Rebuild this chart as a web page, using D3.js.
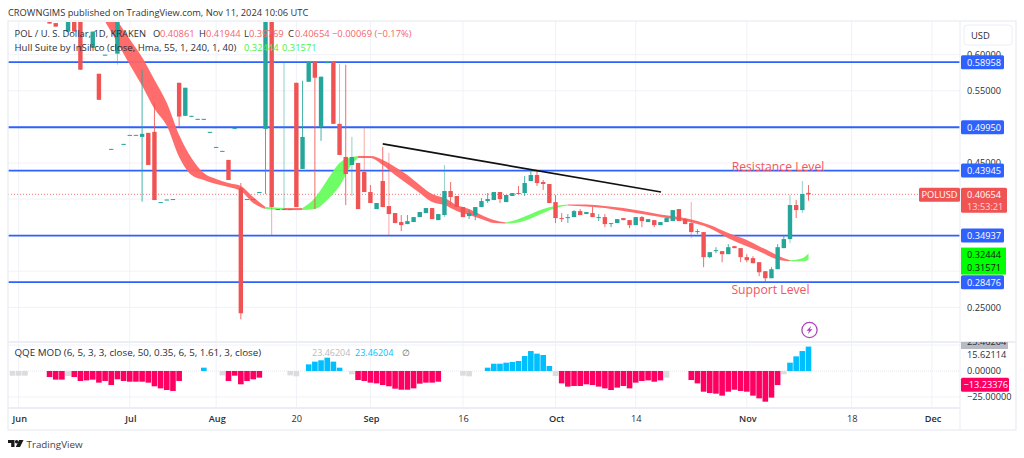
<!DOCTYPE html>
<html><head><meta charset="utf-8">
<script src="https://cdnjs.cloudflare.com/ajax/libs/d3/7.8.5/d3.min.js"></script>
<style>html,body{margin:0;padding:0;background:#fff;overflow:hidden}svg{display:block}text{font-family:"Open Sans","Noto Sans",sans-serif}</style>
</head><body><div id="chart"></div>
<script>
const candleDays=[5,6,8,9,10,12,13,14,15,16,...Array.from({length:112},(_,k)=>17+k)];
const opens=[.6458,.6438,.632,.6614,.6614,.6097,.5736,.5993,.4688,.6014,
.4757,.4882,.4889,.4861,.4917,.4931,.3951,.3986,.3993,.5611,
.5153,.5146,.5104,.5104,.4917,.4715,.466,.4542,.4979,.4153,
.3993,.3993,.409,.4972,.6614,.3854,.3854,.3854,.5611,.4417,
.5625,.5903,.5,.5889,.5903,.5042,.4583,.4472,.45,.4375,
.4097,.3861,.425,.3903,.3806,.3681,.3653,.3681,.375,.3806,
.3875,.3708,.3778,.4111,.4042,.3889,.3764,.3778,.3889,.3972,
.3986,.4097,.3958,.4042,.4083,.4083,.425,.4333,.4236,.4208,
.3958,.3736,.3736,.375,.3833,.3792,.3806,.3743,.375,.366,
.3667,.3736,.3708,.3639,.375,.3681,.3708,.3639,.3681,.3695,
.3861,.3722,.3667,.3549,.3542,.3195,.3278,.3278,.3236,.3347,
.332,.3195,.3181,.3125,.3,.2903,.3028,.332,.3445,.3917,.3847,.40861];
const closes=[.6431,.6389,.6614,.632,.5792,.632,.5375,.6,.4695,.6614,
.4764,.4889,.4882,.4903,.4472,.3986,.3958,.3993,.4,.5143,
.5542,.5153,.5111,.5111,.4931,.4722,.4667,.4264,.4986,.2417,
.4,.4,.4097,.6614,.3889,.3861,.3861,.3861,.3889,.4861,
.5903,.5681,.5695,.5896,.5042,.4611,.4347,.4583,.3861,.4097,
.3945,.3945,.3889,.3792,.3667,.3639,.3695,.375,.382,.3875,
.3722,.3792,.4111,.4028,.3889,.375,.3806,.3889,.3972,.4,
.4097,.4,.4056,.4083,.407,.4222,.4333,.4222,.4208,.3945,
.3736,.3722,.375,.3833,.3778,.382,.375,.375,.3653,.3667,
.3722,.3708,.3639,.375,.3695,.3722,.3639,.3681,.3736,.3847,
.3695,.3653,.3542,.3556,.3195,.3264,.3292,.3236,.3333,.332,
.3195,.3153,.3111,.2986,.2903,.3028,.3333,.3445,.3917,.3847,.407,.40654];
const highs=[.6458,.6438,.6614,.6614,.6714,.632,.5736,.6,.4695,.6614,
.4764,.4889,.4889,.5792,.4917,.5333,.3958,.3993,.4,.5611,
.5542,.5153,.5111,.5111,.4931,.4722,.4667,.4542,.4986,.4222,
.4,.4,.4097,.6614,.6714,.3861,.5903,.3861,.5611,.5639,
.5903,.5903,.5695,.5896,.5903,.5875,.5861,.4861,.45,.5,
.4195,.3945,.4722,.4639,.3806,.3778,.3778,.375,.382,.3875,
.3875,.3792,.4472,.4236,.4042,.3889,.3847,.3889,.4014,.4083,
.4097,.4097,.4056,.4083,.4181,.432,.4403,.4403,.4264,.4208,
.4056,.3806,.3792,.3847,.3861,.382,.3889,.3792,.3792,.3667,
.3722,.3736,.3708,.375,.3764,.3722,.3708,.3681,.375,.3847,
.3861,.3736,.3958,.3583,.3542,.3264,.3333,.3278,.3375,.3347,
.332,.3236,.3208,.3125,.3,.3056,.3375,.3486,.4056,.3986,.425,.41944];
const lows=[.6431,.6389,.632,.632,.5792,.6097,.5375,.5993,.4688,.5861,
.4757,.4882,.4882,.3963,.4472,.3986,.3951,.3986,.3993,.5,
.5153,.5146,.5104,.5104,.4917,.4715,.466,.4264,.4979,.2333,
.3993,.3993,.409,.407,.35,.3854,.3854,.3854,.3889,.4417,
.5625,.3861,.4806,.5889,.5042,.4611,.3917,.4042,.3861,.4097,
.3945,.3861,.3889,.35,.3667,.3556,.3653,.3681,.375,.3806,
.3722,.3708,.375,.3917,.3889,.375,.3722,.3708,.3889,.3945,
.3986,.3945,.3958,.4042,.407,.4042,.425,.4181,.4125,.3945,
.3667,.3681,.3667,.375,.3778,.3792,.375,.3695,.3611,.3611,
.3667,.3708,.3597,.3639,.3611,.3681,.3611,.3639,.3681,.3695,
.3695,.3653,.3458,.3514,.3056,.3181,.325,.3125,.3236,.332,
.3125,.3125,.3111,.2931,.2847,.2903,.3028,.332,.3389,.3736,.3806,.39769];
const fadedWickDays=[16,43,52,54,69,125,127,60,56,41,109];

const hullDays=[14,16,18,20,22,24,26,28,30,32,34,36,38,40,43,46,48,50,52,54,55,57,59,61,63,65,67,69,71,73,75,77,79,81,83,85,87,89,92,95,98,101,104,107,110,112,115,118,120,122,124,125,127,128];
const hullUpper=[.6764,.6472,.6215,.5965,.5653,.5333,.4889,.457,.4361,.4278,.4222,.4181,.4028,.3889,.3875,.3875,.4014,.4264,.45,.4583,.4597,.4597,.4542,.4445,.4333,.4195,.407,.4014,.3917,.3861,.3778,.3708,.3674,.3722,.3792,.3861,.3903,.3924,.3924,.3903,.3875,.3833,.3785,.375,.3695,.3639,.3528,.3431,.3347,.3264,.3181,.3153,.3181,.32444];
const hullLower=[.6458,.6167,.5861,.557,.525,.5014,.4583,.4333,.4264,.4208,.4167,.4111,.3945,.3861,.3847,.3847,.3861,.3986,.4181,.4486,.457,.457,.4472,.4333,.4208,.4083,.3958,.3917,.3833,.3778,.3722,.3667,.366,.3674,.3729,.3806,.3875,.391,.3896,.3875,.3833,.3792,.375,.3708,.3653,.3597,.3458,.3347,.3278,.3195,.3146,.3139,.3139,.31571];
const hullPhaseStart=[14,40,43,46,55,79,89,125];
const hullPhaseEnd=[40,43,46,55,79,89,125,128];
const hullPhaseRising=[false,true,false,true,false,true,false,true];

const qqeDays=[-1,0,1,5,6,7,8,9,10,11,12,13,14,15,16,17,18,19,20,21,22,23,24,25,26,30,33,34,35,36,37,38,39,44,45,47,48,49,50,51,52,54,55,56,57,58,59,60,61,62,63,64,65,66,67,68,72,73,76,77,78,79,80,81,82,83,84,85,86,87,88,89,90,91,92,93,94,95,96,97,98,99,100,101,102,103,104,105,109,110,111,112,113,114,115,116,117,118,119,120,121,122,123,124,125,126,127,128];
const qqeValues=[-4.5,-4.5,-4.5,-5.8,-8.3,-8.3,-4.8,-5.8,-9.6,-9,-8.3,-11.2,-9.6,-13.5,-8,-9.6,-10.3,-10.3,-10.3,-11.2,-14.7,-16.7,-18.3,-19.2,-9.6,3.2,-4.2,-9.6,-4.5,-12.8,-9.6,-8,-6.4,-4.2,-5.1,6.4,9,10.3,12.8,9,3.2,-3.2,-8.7,-9.6,-11.2,-11.9,-13.5,-14.7,-17,-18,-18,-16.7,-12.2,-11.2,-11.2,-10.3,-4.5,-5.1,3.2,7,7,8,8.7,9.6,14.4,19.2,16.7,15.4,4.8,-4.8,-11.9,-15,-14.4,-14.4,-12.8,-13.5,-15,-16.7,-18.3,-16,-14.4,-16.7,-11.2,-9.6,-9,-10.3,-9,-6.4,-8.7,-11.9,-19.9,-21.2,-21.8,-23.7,-19.9,-18,-19.2,-19.9,-23.7,-26.3,-29.5,-25.6,-13.5,-3.2,8,14.1,19.2,23.46204];
const qqeNeutralDays=[-1,0,1,8,33,44,45,54,72,73,87,105,124];

const levelValues=[.58958,.4995,.43945,.34937,.28476];
const priceTicks=[.6,.55,.45,.25];
const gridPrices=[.6,.55,.5,.45,.4,.35,.3,.25];
const qqeTicks=[15.62114,0,-25];
const dayTicks=[0,18,32,45,57,72,87,100,118,135,148];
const dayTickLabels=["Jun","Jul","Aug","20","Sep","16","Oct","14","Nov","18","Dec"];
const trendDays=[59,104.1];
const trendPrices=[.4764,.4097];
const lastPrice=.40654, hullA=.32444, hullB=.31571, qqeLast=23.46204, qqeSignal=-13.23376;

const W=1024,H=458;
const L=8,R=960,RR=1016,T=21,PB=341,QT=343,QB=407,AB=430;
const TEAL="#26a69a",RED="#f05353",BLUE="#2e62ff",HRED="#ff6464",HGREEN="#66fd5c",PINK="#ff0062",CYAN="#00bfff",GRAY="#dcdcdc",INK="#2a2e39";
const svg=d3.select("#chart").append("svg").attr("width",W).attr("height",H);
const x=d3.scaleLinear().domain([0,128]).range([18.7,808.5]);
const y=d3.scaleLinear().domain([.6,.25]).range([54.7,307.3]);
const q=d3.scaleLinear().domain([25,-25]).range([345,397]);
const defs=svg.append("defs");
defs.append("clipPath").attr("id","pp").append("rect").attr("x",L).attr("y",T+1).attr("width",R-L).attr("height",PB-T-1);
defs.append("clipPath").attr("id","qp").append("rect").attr("x",L).attr("y",QT).attr("width",R-L).attr("height",QB-QT);

const TXT=(s,xx,yy,fs,fill,anchor)=>svg.append("text").attr("x",xx).attr("y",yy).attr("font-size",fs).attr("fill",fill||INK).attr("text-anchor",anchor||"start").text(s);

const grid=svg.append("g").attr("stroke","#f0f2f8").attr("stroke-width",1);
dayTicks.forEach(d=>grid.append("line").attr("x1",x(d)).attr("x2",x(d)).attr("y1",T).attr("y2",QB));
gridPrices.forEach(p=>grid.append("line").attr("x1",L).attr("x2",R).attr("y1",y(p)).attr("y2",y(p)));
[q(25),q(-25)].forEach(v=>grid.append("line").attr("x1",L).attr("x2",R).attr("y1",v).attr("y2",v));
svg.append("line").attr("x1",L).attr("x2",R).attr("y1",q(0)).attr("y2",q(0)).attr("stroke","#e4e6ee").attr("stroke-dasharray","1,1");

const price=svg.append("g").attr("clip-path","url(#pp)");
price.append("line").attr("x1",L).attr("x2",R).attr("y1",y(lastPrice)).attr("y2",y(lastPrice)).attr("stroke",RED).attr("stroke-width",.8).attr("stroke-dasharray","1,2");
levelValues.forEach(v=>price.append("line").attr("x1",L).attr("x2",R).attr("y1",y(v)).attr("y2",y(v)).attr("stroke",BLUE).attr("stroke-width",1.8));

const area=d3.area().x(i=>x(hullDays[i])).y0(i=>y(hullLower[i])).y1(i=>y(hullUpper[i])).curve(d3.curveMonotoneX);
hullPhaseStart.forEach((s,k)=>{
  const idx=d3.range(hullDays.length).filter(i=>hullDays[i]>=s&&hullDays[i]<=hullPhaseEnd[k]);
  price.append("path").attr("d",area(idx)).attr("fill",hullPhaseRising[k]?HGREEN:HRED).attr("fill-opacity",.95);
});

const up=i=>closes[i]>=opens[i];
const cg=price.selectAll("g.c").data(candleDays.map((d,i)=>i)).join("g");
cg.append("line").attr("x1",i=>x(candleDays[i])).attr("x2",i=>x(candleDays[i])).attr("y1",i=>y(highs[i])).attr("y2",i=>y(lows[i]))
  .attr("stroke",i=>up(i)?TEAL:RED).attr("stroke-width",1).attr("stroke-opacity",i=>fadedWickDays.includes(candleDays[i])?.5:.85);
cg.append("rect").attr("x",i=>x(candleDays[i])-2.2).attr("width",4.4)
  .attr("y",i=>y(Math.max(opens[i],closes[i])))
  .attr("height",i=>Math.max(1,Math.abs(y(opens[i])-y(closes[i]))))
  .attr("fill",i=>up(i)?TEAL:RED);

price.append("line").attr("x1",x(trendDays[0])).attr("x2",x(trendDays[1])).attr("y1",y(trendPrices[0])).attr("y2",y(trendPrices[1])).attr("stroke","#111").attr("stroke-width",1.6);

svg.append("g").attr("clip-path","url(#qp)").selectAll("rect").data(qqeDays.map((d,i)=>i)).join("rect")
  .attr("x",i=>x(qqeDays[i])-2.8).attr("width",5.6)
  .attr("y",i=>Math.min(q(0),q(qqeValues[i])))
  .attr("height",i=>Math.abs(q(qqeValues[i])-q(0)))
  .attr("fill",i=>qqeNeutralDays.includes(qqeDays[i])?GRAY:qqeValues[i]>0?CYAN:PINK);

// frame
const frame=svg.append("g").attr("stroke","#eceef4").attr("fill","none");
frame.append("rect").attr("x",L).attr("y",T).attr("width",RR-L).attr("height",AB-T).attr("stroke-width",1.4);
frame.append("line").attr("x1",R).attr("x2",R).attr("y1",T).attr("y2",AB).attr("stroke-width",1.2);
frame.append("line").attr("x1",L).attr("x2",RR).attr("y1",PB+1).attr("y2",PB+1).attr("stroke-width",1.8);
frame.append("line").attr("x1",L).attr("x2",R).attr("y1",QB+1).attr("y2",QB+1).attr("stroke-width",1.8);

// axes
const fmt=d3.format(".5f");
const ya=svg.append("g").attr("transform",`translate(${R},0)`).call(d3.axisRight(y).tickValues(priceTicks).tickSize(0).tickPadding(7).tickFormat(fmt));
const qa=svg.append("g").attr("transform",`translate(${R},0)`).call(d3.axisRight(q).tickValues(qqeTicks).tickSize(0).tickPadding(7).tickFormat(d=>fmt(d).replace("-","\u2212")));
const xa=svg.append("g").attr("transform",`translate(0,${QB+8})`).call(d3.axisBottom(x).tickValues(dayTicks).tickSize(0).tickPadding(0).tickFormat((d,i)=>dayTickLabels[i]));
[ya,qa,xa].forEach(a=>{a.select(".domain").remove();a.selectAll("text").attr("fill",INK).attr("font-size",9.2).attr("font-family",'"Open Sans"');});
xa.selectAll("text").filter((d,i)=>[0,1,2,4,6,8,10].includes(i)).attr("font-weight",600).attr("dx",0.6);

// price tags
levelValues.forEach(v=>{
  const yy=y(v);
  svg.append("rect").attr("x",R+1).attr("y",yy-7).attr("width",43).attr("height",14).attr("rx",1.5).attr("fill",BLUE);
  TXT(fmt(v),R+7,yy+3.3,9.2,"#fff");
});
svg.append("rect").attr("x",R+1).attr("y",y(hullA)-6).attr("width",45).attr("height",27).attr("fill","#00ff00");
TXT(fmt(hullA),R+7,y(hullA)+4.6,9.2,"#111");
TXT(fmt(hullB),R+7,y(hullA)+17.6,9.2,"#111");
svg.append("rect").attr("x",R+1).attr("y",y(lastPrice)-6.5).attr("width",46).attr("height",25).attr("rx",1.5).attr("fill",RED);
TXT(fmt(lastPrice),R+7,y(lastPrice)+3.8,9.2,"#fff");
TXT("13:53:21",R+7,y(lastPrice)+15.8,9.2,"#ffd9d9");
svg.append("rect").attr("x",919).attr("y",y(lastPrice)-6.5).attr("width",41).attr("height",14).attr("rx",1.5).attr("fill",RED);
TXT("POLUSD",939.5,y(lastPrice)+3.8,9.2,"#fff","middle");

// QQE tags
svg.append("rect").attr("x",R+1).attr("y",QT-1).attr("width",47).attr("height",7).attr("fill","#b9bbc4");
TXT(fmt(qqeLast),R+7,q(qqeLast)-2,9.2,INK).attr("clip-path","url(#qtop)");
defs.append("clipPath").attr("id","qtop").append("rect").attr("x",R).attr("y",QT-1).attr("width",50).attr("height",8);
svg.append("rect").attr("x",R+1).attr("y",q(qqeSignal)-7).attr("width",48).attr("height",14).attr("rx",1.5).attr("fill",PINK);
TXT(fmt(qqeSignal).replace("-","\u2212"),R+48,q(qqeSignal)+3.3,9.2,"#fff","end");

// USD box
svg.append("rect").attr("x",964).attr("y",25).attr("width",48).attr("height",20).attr("rx",3).attr("fill","#fff").attr("stroke","#eceef4");
TXT("USD",971,38.5,9.4,INK);

// annotations
TXT("Resistance Level",778,171,12.2,"#f2555e","middle");
TXT("Support Level",770.5,294,12.2,"#f2555e","middle");

// lightning mark
const bolt=svg.append("g").attr("transform","translate(809.5,330)");
bolt.append("circle").attr("r",7.6).attr("fill","#fff").attr("stroke","#ab47bc").attr("stroke-width",1.3);
bolt.append("path").attr("d","M1.8,-4.2 L-3,0.8 L-0.4,0.8 L-1.8,4.2 L3,-0.8 L0.4,-0.8 Z").attr("fill","#ab47bc");

// header + legends
TXT("CROWNGIMS published on TradingView.com, Nov 11, 2024 10:06 UTC",8,15.5,9.3,"#333");
TXT("POL / U. S. Dollar, 1D, KRAKEN",14.5,37,9.4,INK);
const legRed="#f4666c";
[["O",153],["H",199],["L",244],["C",288]].forEach(([s,xx])=>TXT(s,xx,37,9.4,INK));
[["0.40861",160],["0.41944",206],["0.39769",249],["0.40654",295]].forEach(([s,xx])=>TXT(s,xx,37,9.4,legRed));
TXT("\u22120.00069 (\u22120.17%)",332,37,9.4,legRed);
TXT("Hull Suite by InSilico (close, Hma, 55, 1, 240, 1, 40)",14.5,51,9.65,INK);
TXT("0.32444",244,51,9.4,"#4cf04a");
TXT("0.31571",282,51,9.4,"#4cf04a");
TXT("QQE MOD (6, 5, 3, 3, close, 50, 0.35, 6, 5, 1.61, 3, close)",14.5,356,9.8,INK);
TXT("23.46204",312,356,9.0,"#bbbbbb");
TXT("23.46204",355,356,9.0,CYAN);
TXT("\u2205",402,356,9.4,"#666");

// footer
const logo=svg.append("g").attr("transform","translate(8,440)").attr("fill","#1a1a1a");
logo.append("path").attr("d","M0,0 H6.5 V7 H3.2 V3 H0 Z");
logo.append("circle").attr("cx",8.6).attr("cy",1.7).attr("r",1.7);
logo.append("path").attr("d","M11,0 H15.5 L12,7 H7.8 Z");
TXT("TradingView",26.5,447.5,9.8,"#444");
</script></body></html>
